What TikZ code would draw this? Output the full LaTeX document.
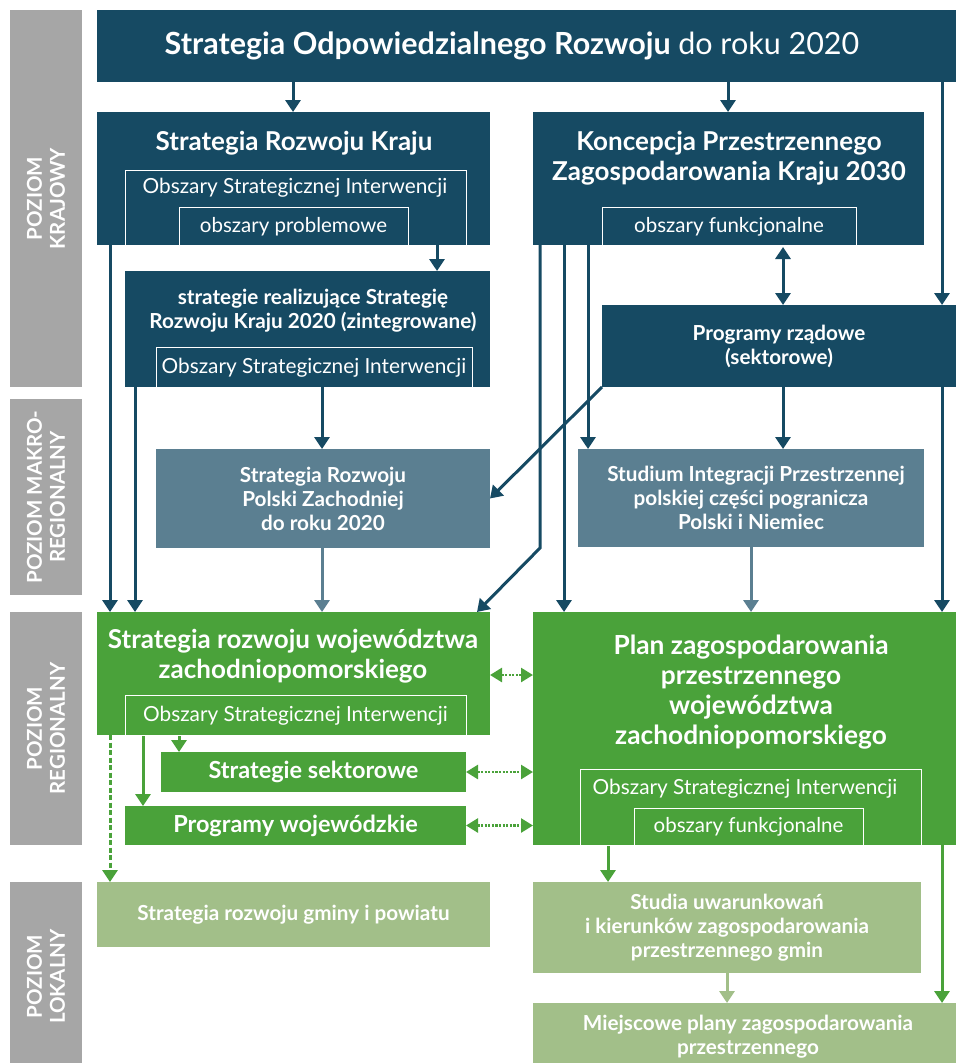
\documentclass[tikz,border=0pt]{standalone}
\usepackage{fontspec}
\setmainfont{Lato}
\usetikzlibrary{arrows.meta, positioning, calc}
\definecolor{navy}{RGB}{22,74,99}
\definecolor{slate}{RGB}{91,127,145}
\definecolor{leaf}{RGB}{74,162,58}
\definecolor{paleleaf}{RGB}{162,191,137}
\definecolor{bargray}{RGB}{166,166,166}

\begin{document}
\begin{tikzpicture}[x=1pt, y=-1pt,
  box/.style={anchor=north west, inner sep=0pt, outer sep=0pt, text=white, align=center, font=\bfseries\fontsize{20.7}{24}\selectfont},
  navybox/.style={box, fill=navy},
  slatebox/.style={box, fill=slate},
  leafbox/.style={box, fill=leaf},
  palebox/.style={box, fill=paleleaf},
  bar/.style={box, fill=bargray},
  inbox/.style={box, draw=white, line width=0.8pt, font=\fontsize{20.8}{24}\selectfont},
  intxt/.style={text=white, font=\fontsize{20.8}{24}\selectfont},
  head/.style={text=white, align=center, font=\bfseries\fontsize{26}{30}\selectfont},
  bartxt/.style={text=white, align=center, rotate=90, font=\bfseries\fontsize{20.5}{23}\selectfont},
  arr/.style={-{Triangle[width=15pt,length=12pt]}, line width=3pt, draw=navy},
  biarr/.style={{Triangle[width=15pt,length=12pt]}-{Triangle[width=15pt,length=12pt]}, line width=3pt, draw=navy},
  dotarr/.style={{Triangle[width=14pt,length=12pt]}-{Triangle[width=14pt,length=12pt]}, line width=2.6pt, draw=leaf, dash pattern=on 2.2pt off 1.4pt},
  dasharr/.style={arr, draw=leaf, dash pattern=on 5pt off 2.5pt}
]
\useasboundingbox (0,0) rectangle (956,1063);

% levels
\node[bar, minimum width=72, minimum height=377] (lvkraj) at (10,10) {};
\node[bar, minimum width=72, minimum height=196] (lvmakro) at (10,399) {};
\node[bar, minimum width=72, minimum height=233] (lvreg) at (10,612) {};
\node[bar, minimum width=72, minimum height=181] (lvlok) at (10,882) {};
\node[bartxt] at (lvkraj.center) {POZIOM\\KRAJOWY};
\node[bartxt] at (lvmakro.center) {POZIOM MAKRO-\\REGIONALNY};
\node[bartxt] at (lvreg.center) {POZIOM\\REGIONALNY};
\node[bartxt] at ([yshift=-4pt]lvlok.center) {POZIOM\\LOKALNY};

% poziom krajowy
\node[navybox, minimum width=859, minimum height=72] (sor) at (97,10) {};
\node[text=white, font=\fontsize{30.5}{36}\selectfont] (sorlbl) at (512,46) {\textbf{Strategia Odpowiedzialnego Rozwoju} do roku 2020};

\node[navybox, minimum width=393, minimum height=133] (srk) at (97,112) {};
\node[head] (srklbl) at (294,143) {Strategia Rozwoju Kraju};
\node[inbox, minimum width=341, minimum height=77] (srkosi) at (125,170) {};
\node[intxt] at (295,188) {Obszary Strategicznej Interwencji};
\node[inbox, minimum width=229, minimum height=40, font=\fontsize{20.5}{24}\selectfont] (srkop) at (179,207) {obszary problemowe};

\node[navybox, minimum width=391, minimum height=133] (kpzk) at (533,112) {};
\node[head] (kpzklbl) at (729,158) {Koncepcja Przestrzennego\\Zagospodarowania Kraju 2030};
\node[inbox, minimum width=254, minimum height=40, font=\fontsize{20.5}{24}\selectfont] (kpzkof) at (602,207) {obszary funkcjonalne};

\node[navybox, minimum width=365, minimum height=116] (sr) at (125,271) {};
\node[text=white, align=center, font=\bfseries\fontsize{20.7}{24}\selectfont] (srlbl) at (313,311) {strategie realizujące Strategię\\Rozwoju Kraju 2020 (zintegrowane)};
\node[inbox, minimum width=316, minimum height=41] (srosi) at (156,347) {Obszary Strategicznej Interwencji};

\node[navybox, minimum width=354, minimum height=82] (prog) at (602,305) {Programy rządowe\\(sektorowe)};

% poziom makroregionalny
\node[slatebox, minimum width=334, minimum height=99] (srpz) at (156,449) {Strategia Rozwoju\\Polski Zachodniej\\do roku 2020};
\node[slatebox, minimum width=346, minimum height=98] (sip) at (578,449) {\hspace*{10pt}Studium Integracji Przestrzennej\\polskiej części pogranicza\\Polski i Niemiec};

% poziom regionalny
\node[leafbox, minimum width=393, minimum height=123] (srw) at (97,612) {};
\node[head] (srwlbl) at (293,656) {Strategia rozwoju województwa\\zachodniopomorskiego};
\node[inbox, minimum width=341, minimum height=41] (srwosi) at (125,695) {Obszary Strategicznej Interwencji};
\node[leafbox, minimum width=305, minimum height=40, font=\bfseries\fontsize{23.5}{27}\selectfont] (strsek) at (161,752) {Strategie sektorowe};
\node[leafbox, minimum width=341, minimum height=39, font=\bfseries\fontsize{23.5}{27}\selectfont] (progw) at (125,806) {Programy wojewódzkie};

\node[leafbox, minimum width=423, minimum height=233] (pzp) at (533,612) {};
\node[head, font=\bfseries\fontsize{26.3}{30}\selectfont] (pzplbl) at (751,692) {Plan zagospodarowania\\przestrzennego\\województwa\\zachodniopomorskiego};
\node[inbox, minimum width=341, minimum height=77] (pzposi) at (580,769) {};
\node[intxt] at (745,789) {Obszary Strategicznej Interwencji};
\node[inbox, minimum width=229, minimum height=38, font=\fontsize{20.5}{24}\selectfont] (pzpof) at (634,808) {obszary funkcjonalne};

% poziom lokalny
\node[palebox, minimum width=393, minimum height=65] (srg) at (97,882) {Strategia rozwoju gminy i powiatu};
\node[palebox, minimum width=388, minimum height=91] (suikzp) at (533,882) {Studia uwarunkowań\\i kierunków zagospodarowania\\przestrzennego gmin};
\node[palebox, minimum width=423, minimum height=60] (mpzp) at (533,1003) {};
\node[text=white, align=center, font=\bfseries\fontsize{20.7}{24}\selectfont] (mpzplbl) at (748,1037) {Miejscowe plany zagospodarowania\\przestrzennego};

% connectors
\draw[arr] (sor.south -| 293,0) -- (srk.north -| 293,0);
\draw[arr] (sor.south -| 728,0) -- (kpzk.north -| 728,0);
\draw[arr] (sor.south -| 942,0) -- (prog.north -| 942,0);
\draw[arr] (srk.south -| 437,0) -- (sr.north -| 437,0);
\draw[arr] (srk.south -| 110,0) -- (srw.north -| 110,0);
\draw[arr] (sr.south -| 135,0) -- (srw.north -| 135,0);
\draw[arr] (sr.south -| 322,0) -- (srpz.north -| 322,0);
\draw[biarr] (kpzkof.south -| 783,0) -- (prog.north -| 783,0);
\draw[arr] (kpzk.south -| 588,0) -- (sip.north -| 588,0);
\draw[arr] (kpzk.south -| 564,0) -- (pzp.north -| 564,0);
\draw[arr] (kpzk.south -| 540,0) -- (540,548) -- ([xshift=-13pt]srw.north east);
\draw[arr] (prog.south west) -- (srpz.east);
\draw[arr] (prog.south -| 783,0) -- (sip.north -| 783,0);
\draw[arr] (prog.south -| 942,0) -- (pzp.north -| 942,0);
\draw[arr, draw=slate] (srpz.south -| 322,0) -- (srw.north -| 322,0);
\draw[arr, draw=slate] (sip.south -| 751,0) -- (pzp.north -| 751,0);
\draw[arr, draw=leaf] (srwosi.south -| 179,0) -- (strsek.north -| 179,0);
\draw[arr, draw=leaf] (srwosi.south -| 143,0) -- (progw.north -| 143,0);
\draw[dasharr] (srw.south -| 110,0) -- (srg.north -| 110,0);
\draw[dotarr] (srw.east |- 0,675) -- (pzp.west |- 0,675);
\draw[dotarr] (strsek.east) -- (strsek.east -| pzp.west);
\draw[dotarr] (progw.east) -- (progw.east -| pzp.west);
\draw[arr, draw=leaf] (pzposi.south -| 608,0) -- (suikzp.north -| 608,0);
\draw[arr, draw=paleleaf] (suikzp.south -| 727,0) -- (mpzp.north -| 727,0);
\draw[arr, draw=leaf] (pzp.south -| 942,0) -- (mpzp.north -| 942,0);
\end{tikzpicture}
\end{document}
